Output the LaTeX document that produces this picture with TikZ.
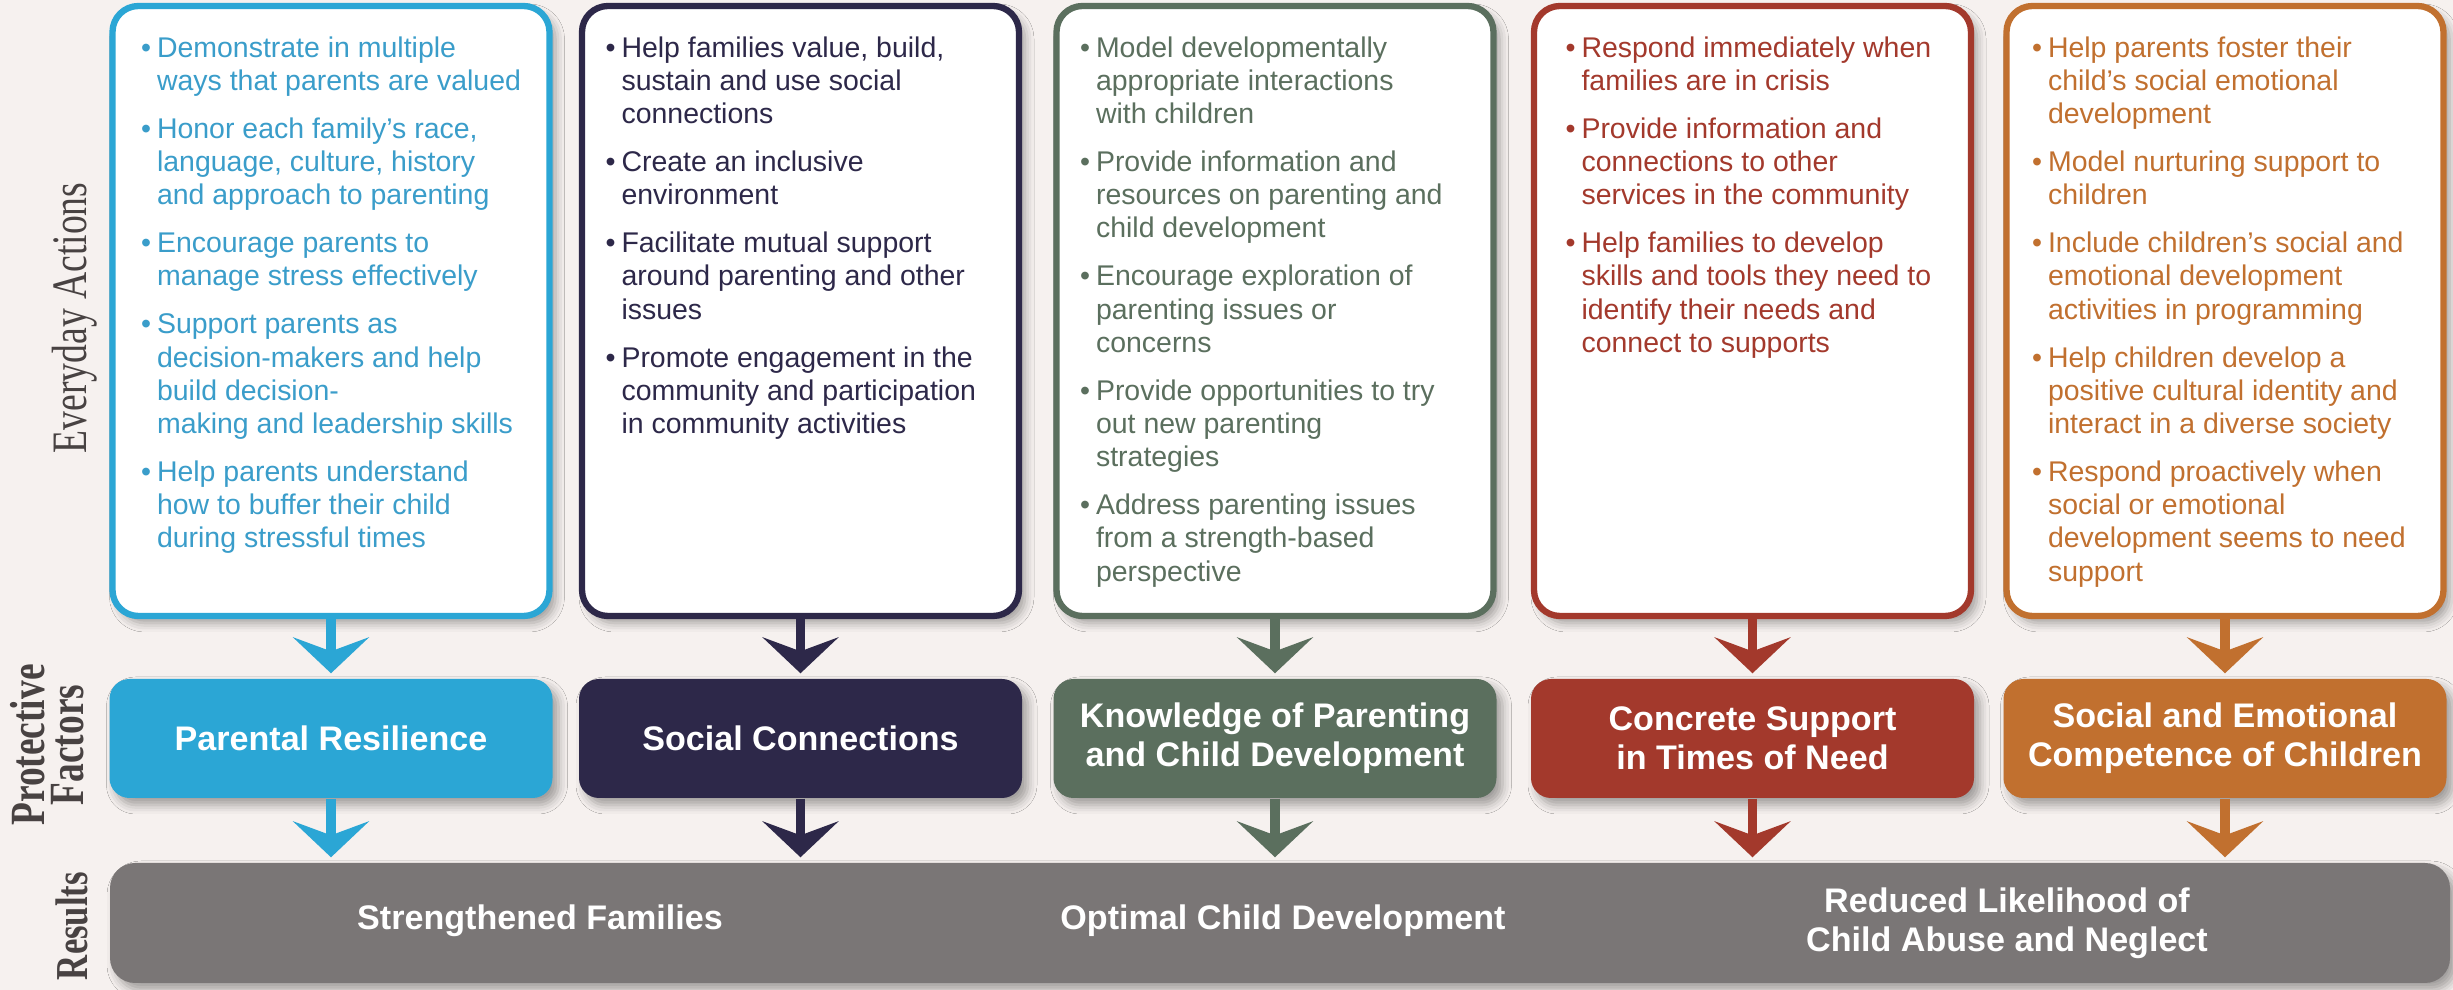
\documentclass[tikz,border=0pt]{standalone}
\usepackage{fontspec}
\setmainfont{Liberation Sans}
\newfontfamily\sidefont[FakeStretch=0.76]{Liberation Serif}
\usetikzlibrary{arrows.meta,shadows.blur}

\definecolor{paper}{HTML}{F6F1EF}
\definecolor{resblue}{HTML}{2BA6D5}
\definecolor{resbluetext}{HTML}{3A9DCA}
\definecolor{connnavy}{HTML}{2D2849}
\definecolor{knowgreen}{HTML}{5B6F5E}
\definecolor{suppred}{HTML}{A3392C}
\definecolor{comporange}{HTML}{C1702F}
\definecolor{resgray}{HTML}{7A7676}
\definecolor{sidegray}{HTML}{484242}

\newcommand{\bul}{\llap{\textbullet\hspace{0.6mm}}}

\begin{document}
\begin{tikzpicture}[
    softshadow/.style={blur shadow={shadow xshift=0.6mm, shadow yshift=-0.7mm, shadow blur radius=0.9mm, shadow opacity=35}},
    actbox/.style={draw, line width=1.8pt, fill=white, rounded corners=2.6mm, minimum width=4.37cm, minimum height=6.10cm, softshadow},
    acttext/.style={anchor=north west, inner sep=0pt, align=left, font=\fontsize{8.1}{9.45}\selectfont},
    factor/.style={rounded corners=2mm, minimum width=4.43cm, minimum height=1.19cm, text=white, align=center, font=\bfseries\fontsize{9.7}{11.2}\selectfont, softshadow},
    result/.style={text=white, align=center, font=\bfseries\fontsize{9.7}{11.2}\selectfont},
    flow/.style={line width=2.7pt, -{Stealth[length=3.6mm, width=7.6mm, inset=1.4mm]}, shorten >=0.5mm},
    side/.style={rotate=90, inner sep=0pt, text=sidegray, align=center}
  ]
    \useasboundingbox (0,0) rectangle (24.53,9.90);
    \fill[paper] (0,0) rectangle (24.53,9.90);

    \node[side, font=\sidefont\fontsize{14.1}{14}\selectfont] (lact) at (0.75,6.72) {Everyday Actions};
    \node[side, font=\sidefont\bfseries\fontsize{14}{11}\selectfont] (lfac) at (0.47,2.45) {Protective\\Factors};
    \node[side, font=\sidefont\bfseries\fontsize{13}{13}\selectfont] (lres) at (0.72,0.64) {Results};

    \node[actbox, draw=resblue] (act1) at (3.31,6.79) {};
    \node[actbox, draw=connnavy] (act2) at (8.005,6.79) {};
    \node[actbox, draw=knowgreen] (act3) at (12.75,6.79) {};
    \node[actbox, draw=suppred] (act4) at (17.525,6.79) {};
    \node[actbox, draw=comporange] (act5) at (22.25,6.79) {};

    \node[acttext, text=resbluetext] (txt1) at ([shift={(0.47,-0.33)}]act1.north west) {%
      \bul Demonstrate in multiple\\ways that parents are valued\\[4.2pt]
      \bul Honor each family’s race,\\language, culture, history\\and approach to parenting\\[4.2pt]
      \bul Encourage parents to\\manage stress effectively\\[4.2pt]
      \bul Support parents as\\decision-makers and help\\build decision-\\making and leadership skills\\[4.2pt]
      \bul Help parents understand\\how to buffer their child\\during stressful times};
    \node[acttext, text=connnavy] (txt2) at ([shift={(0.42,-0.33)}]act2.north west) {%
      \bul Help families value, build,\\sustain and use social\\connections\\[4.2pt]
      \bul Create an inclusive\\environment\\[4.2pt]
      \bul Facilitate mutual support\\around parenting and other\\issues\\[4.2pt]
      \bul Promote engagement in the\\community and participation\\in community activities};
    \node[acttext, text=knowgreen] (txt3) at ([shift={(0.42,-0.33)}]act3.north west) {%
      \bul Model developmentally\\appropriate interactions\\with children\\[4.2pt]
      \bul Provide information and\\resources on parenting and\\child development\\[4.2pt]
      \bul Encourage exploration of\\parenting issues or\\concerns\\[4.2pt]
      \bul Provide opportunities to try\\out new parenting\\strategies\\[4.2pt]
      \bul Address parenting issues\\from a strength-based\\perspective};
    \node[acttext, text=suppred] (txt4) at ([shift={(0.50,-0.33)}]act4.north west) {%
      \bul Respond immediately when\\families are in crisis\\[4.2pt]
      \bul Provide information and\\connections to other\\services in the community\\[4.2pt]
      \bul Help families to develop\\skills and tools they need to\\identify their needs and\\connect to supports};
    \node[acttext, text=comporange] (txt5) at ([shift={(0.44,-0.33)}]act5.north west) {%
      \bul Help parents foster their\\child’s social emotional\\development\\[4.2pt]
      \bul Model nurturing support to\\children\\[4.2pt]
      \bul Include children’s social and\\emotional development\\activities in programming\\[4.2pt]
      \bul Help children develop a\\positive cultural identity and\\interact in a diverse society\\[4.2pt]
      \bul Respond proactively when\\social or emotional\\development seems to need\\support};

    \node[factor, fill=resblue] (pf1) at (3.31,2.515) {Parental Resilience};
    \node[factor, fill=connnavy] (pf2) at (8.005,2.515) {Social Connections};
    \node[factor, fill=knowgreen] (pf3) at (12.75,2.515) {Knowledge of Parenting\\and Child Development};
    \node[factor, fill=suppred] (pf4) at (17.525,2.515) {Concrete Support\\in Times of Need};
    \node[factor, fill=comporange] (pf5) at (22.25,2.515) {Social and Emotional\\Competence of Children};

    \node[fill=resgray, rounded corners=2.5mm, minimum width=23.40cm, minimum height=1.20cm, softshadow] (res) at (12.80,0.67) {};
    \node[result] (out1) at (5.40,0.69) {Strengthened Families};
    \node[result] (out2) at (12.83,0.69) {Optimal Child Development};
    \node[result] (out3) at (20.07,0.67) {Reduced Likelihood of\\Child Abuse and Neglect};

    \draw[flow, resblue] (act1) -- (pf1);
    \draw[flow, connnavy] (act2) -- (pf2);
    \draw[flow, knowgreen] (act3) -- (pf3);
    \draw[flow, suppred] (act4) -- (pf4);
    \draw[flow, comporange] (act5) -- (pf5);
    \draw[flow, resblue] (pf1) -- (pf1 |- res.north);
    \draw[flow, connnavy] (pf2) -- (pf2 |- res.north);
    \draw[flow, knowgreen] (pf3) -- (pf3 |- res.north);
    \draw[flow, suppred] (pf4) -- (pf4 |- res.north);
    \draw[flow, comporange] (pf5) -- (pf5 |- res.north);
\end{tikzpicture}
\end{document}
